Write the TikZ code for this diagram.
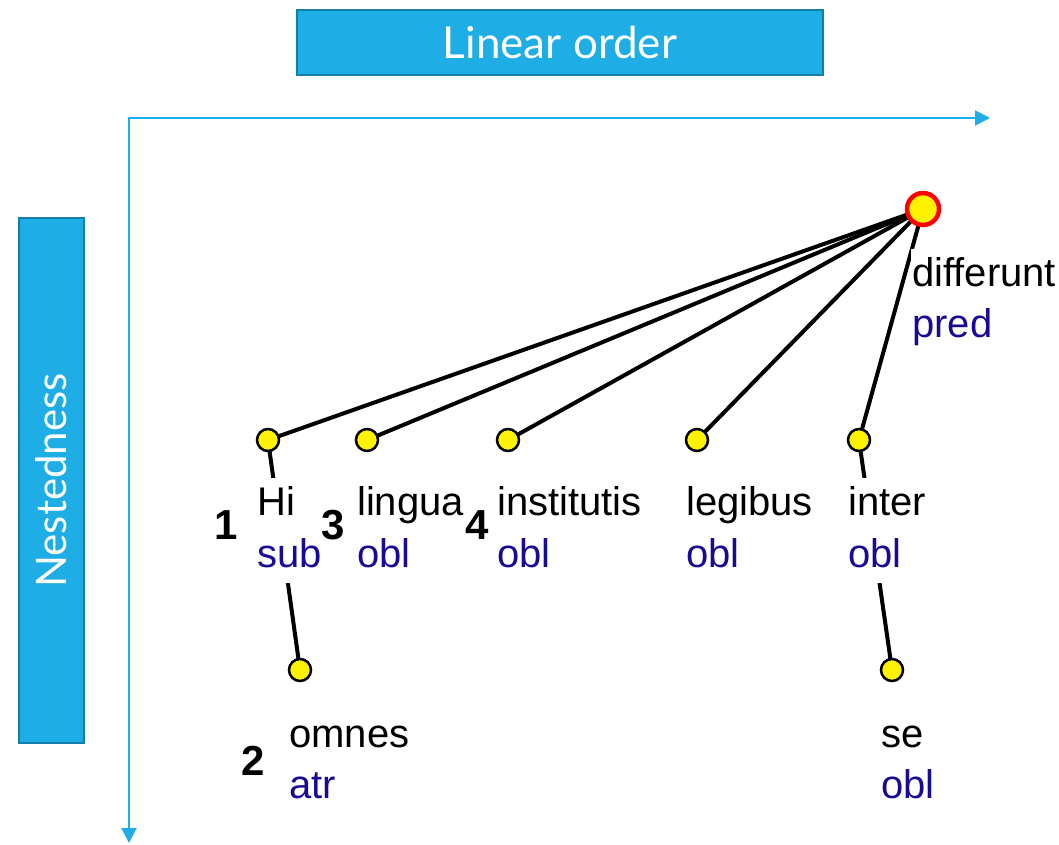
\documentclass[tikz,border=0pt]{standalone}
\usepackage{fontspec}
\setmainfont{Liberation Sans}
\newfontfamily\titlefont{Lato}
\usetikzlibrary{arrows.meta,backgrounds}
\definecolor{boxblue}{RGB}{30,173,228}
\definecolor{boxedge}{RGB}{20,125,170}
\definecolor{rolecol}{RGB}{25,10,150}
\tikzset{
  titlebox/.style={draw=boxedge, fill=boxblue, line width=1.5pt, text=white,
    font=\titlefont\fontsize{44}{44}\selectfont, inner sep=0pt},
  word/.style={anchor=base west, font=\fontsize{40}{48}\selectfont, fill=white,
    inner xsep=1pt, inner ysep=7pt, text height=30pt, text depth=9pt},
  role/.style={word, text=rolecol},
  dep/.style={circle, fill=yellow, draw=black, line width=2.5pt, minimum size=22pt, inner sep=0pt},
  rootnode/.style={circle, fill=yellow, draw=red, line width=4.5pt, minimum size=32pt, inner sep=0pt},
  edge/.style={line width=4pt, black},
  axis/.style={draw=boxblue, line width=2pt},
  num/.style={font=\bfseries\fontsize{42}{42}\selectfont}
}
\begin{document}
\begin{tikzpicture}[x=1pt,y=-1pt]
\useasboundingbox (0,0) rectangle (1059,844);
% title boxes
\node[titlebox, minimum width=526pt, minimum height=65pt] (lin) at (560,42.5) {Linear order};
\node[titlebox, rotate=90, minimum width=525pt, minimum height=65pt, font=\titlefont\fontsize{42}{42}\selectfont] (nest) at (51.5,480.5) {Nestedness};
% axes
\coordinate (xend) at (990,118);
\coordinate (orig) at (129,118);
\coordinate (yend) at (129,843);
\draw[axis, {Triangle[length=15pt,width=15pt]}-{Triangle[length=15pt,width=15pt]}] (xend) -- (orig) -- (yend);
% tree nodes
\node[rootnode] (root) at (923,209) {};
\node[dep] (hi) at (268,440) {};
\node[dep] (lingua) at (367,440) {};
\node[dep] (inst) at (508,440) {};
\node[dep] (leg) at (697,440) {};
\node[dep] (inter) at (859,440) {};
\node[dep] (omnes) at (300,670) {};
\node[dep] (se) at (892,670) {};
% edges
\begin{pgfonlayer}{background}
\draw[edge] (root.center) -- (hi.center);
\draw[edge] (root.center) -- (lingua.center);
\draw[edge] (root.center) -- (inst.center);
\draw[edge] (root.center) -- (leg.center);
\draw[edge] (root.center) -- (inter.center);
\draw[edge] (hi.center) -- (omnes.center);
\draw[edge] (inter.center) -- (se.center);
\end{pgfonlayer}
% labels
\node[word] (hiw) at (256,515) {Hi};
\node[role] (hir) at (256,567) {sub};
\node[word] (linw) at (356,515) {lingua};
\node[role] (linr) at (356,567) {obl};
\node[word] (instw) at (496,515) {institutis};
\node[role] (instr) at (496,567) {obl};
\node[word] (legw) at (685,515) {legibus};
\node[role] (legr) at (685,567) {obl};
\node[word] (interw) at (847,515) {inter};
\node[role] (interr) at (847,567) {obl};
\node[word] (rootw) at (911,286) {differunt};
\node[role] (rootr) at (911,337) {pred};
\node[word] (omw) at (288,747) {omnes};
\node[role] (omr) at (288,798) {atr};
\node[word] (sew) at (880,747) {se};
\node[role] (ser) at (880,798) {obl};
% numbers
\node[num] (n1) at (226,525) {1};
\node[num] (n3) at (333,525) {3};
\node[num] (n4) at (477,525) {4};
\node[num] (n2) at (253,761) {2};
\end{tikzpicture}
\end{document}
